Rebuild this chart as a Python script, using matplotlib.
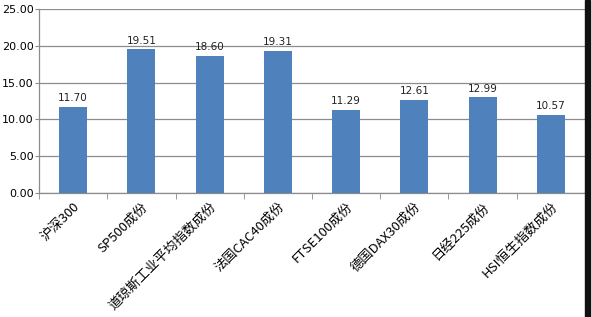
import numpy as np
import matplotlib.pyplot as plt
from matplotlib.patches import Rectangle

plt.rcParams['font.family'] = ['Noto Sans CJK SC', 'DejaVu Sans']

categories = ['沪深300', 'SP500成份', '道琼斯工业平均指数成份', '法国CAC40成份',
              'FTSE100成份', '德国DAX30成份', '日经225成份', 'HSI恒生指数成份']
values = [11.70, 19.51, 18.60, 19.31, 11.29, 12.61, 12.99, 10.57]
yticks = [0, 5, 10, 15, 20, 25]

fig = plt.figure(figsize=(5.92, 3.17), dpi=100)
ax = fig.add_axes([0.066, 0.391, 0.922, 0.581])

x = np.arange(len(categories))
ax.bar(x, values, width=0.41, color='#4F81BD', zorder=3)
for xi, v in zip(x, values):
    ax.text(xi, v + 0.5, f'{v:.2f}', ha='center', va='bottom', fontsize=7.5,
            color='#222222', family='DejaVu Sans')

ax.set_xlim(-0.5, len(categories) - 0.5)
ax.set_ylim(0, 25)
ax.set_yticks(yticks)
ax.set_yticklabels([f'{t:.2f}' for t in yticks], fontsize=8, family='DejaVu Sans')
ax.yaxis.grid(True, color='#8c8c8c', linewidth=0.9, zorder=0)
ax.tick_params(axis='y', length=3, color='#8c8c8c', direction='out', pad=1)

ax.set_xticks(x)
ax.set_xticklabels(categories, rotation=45, ha='right', rotation_mode='anchor', fontsize=9.5)
ax.set_xticks(np.arange(-0.5, len(categories)), minor=True)
ax.tick_params(axis='x', which='major', length=0, pad=5)
ax.tick_params(axis='x', which='minor', length=4, color='#8c8c8c', direction='out')

for s in ['top', 'right']:
    ax.spines[s].set_visible(False)
for s in ['left', 'bottom']:
    ax.spines[s].set_color('#8c8c8c')
    ax.spines[s].set_linewidth(0.9)

# dark strip on the right edge of the original screenshot
fig.patches.append(Rectangle((585 / 592, 0), 5 / 592, 1, transform=fig.transFigure,
                             color='#111111', zorder=10))

fig.savefig('out.png', dpi=100)
